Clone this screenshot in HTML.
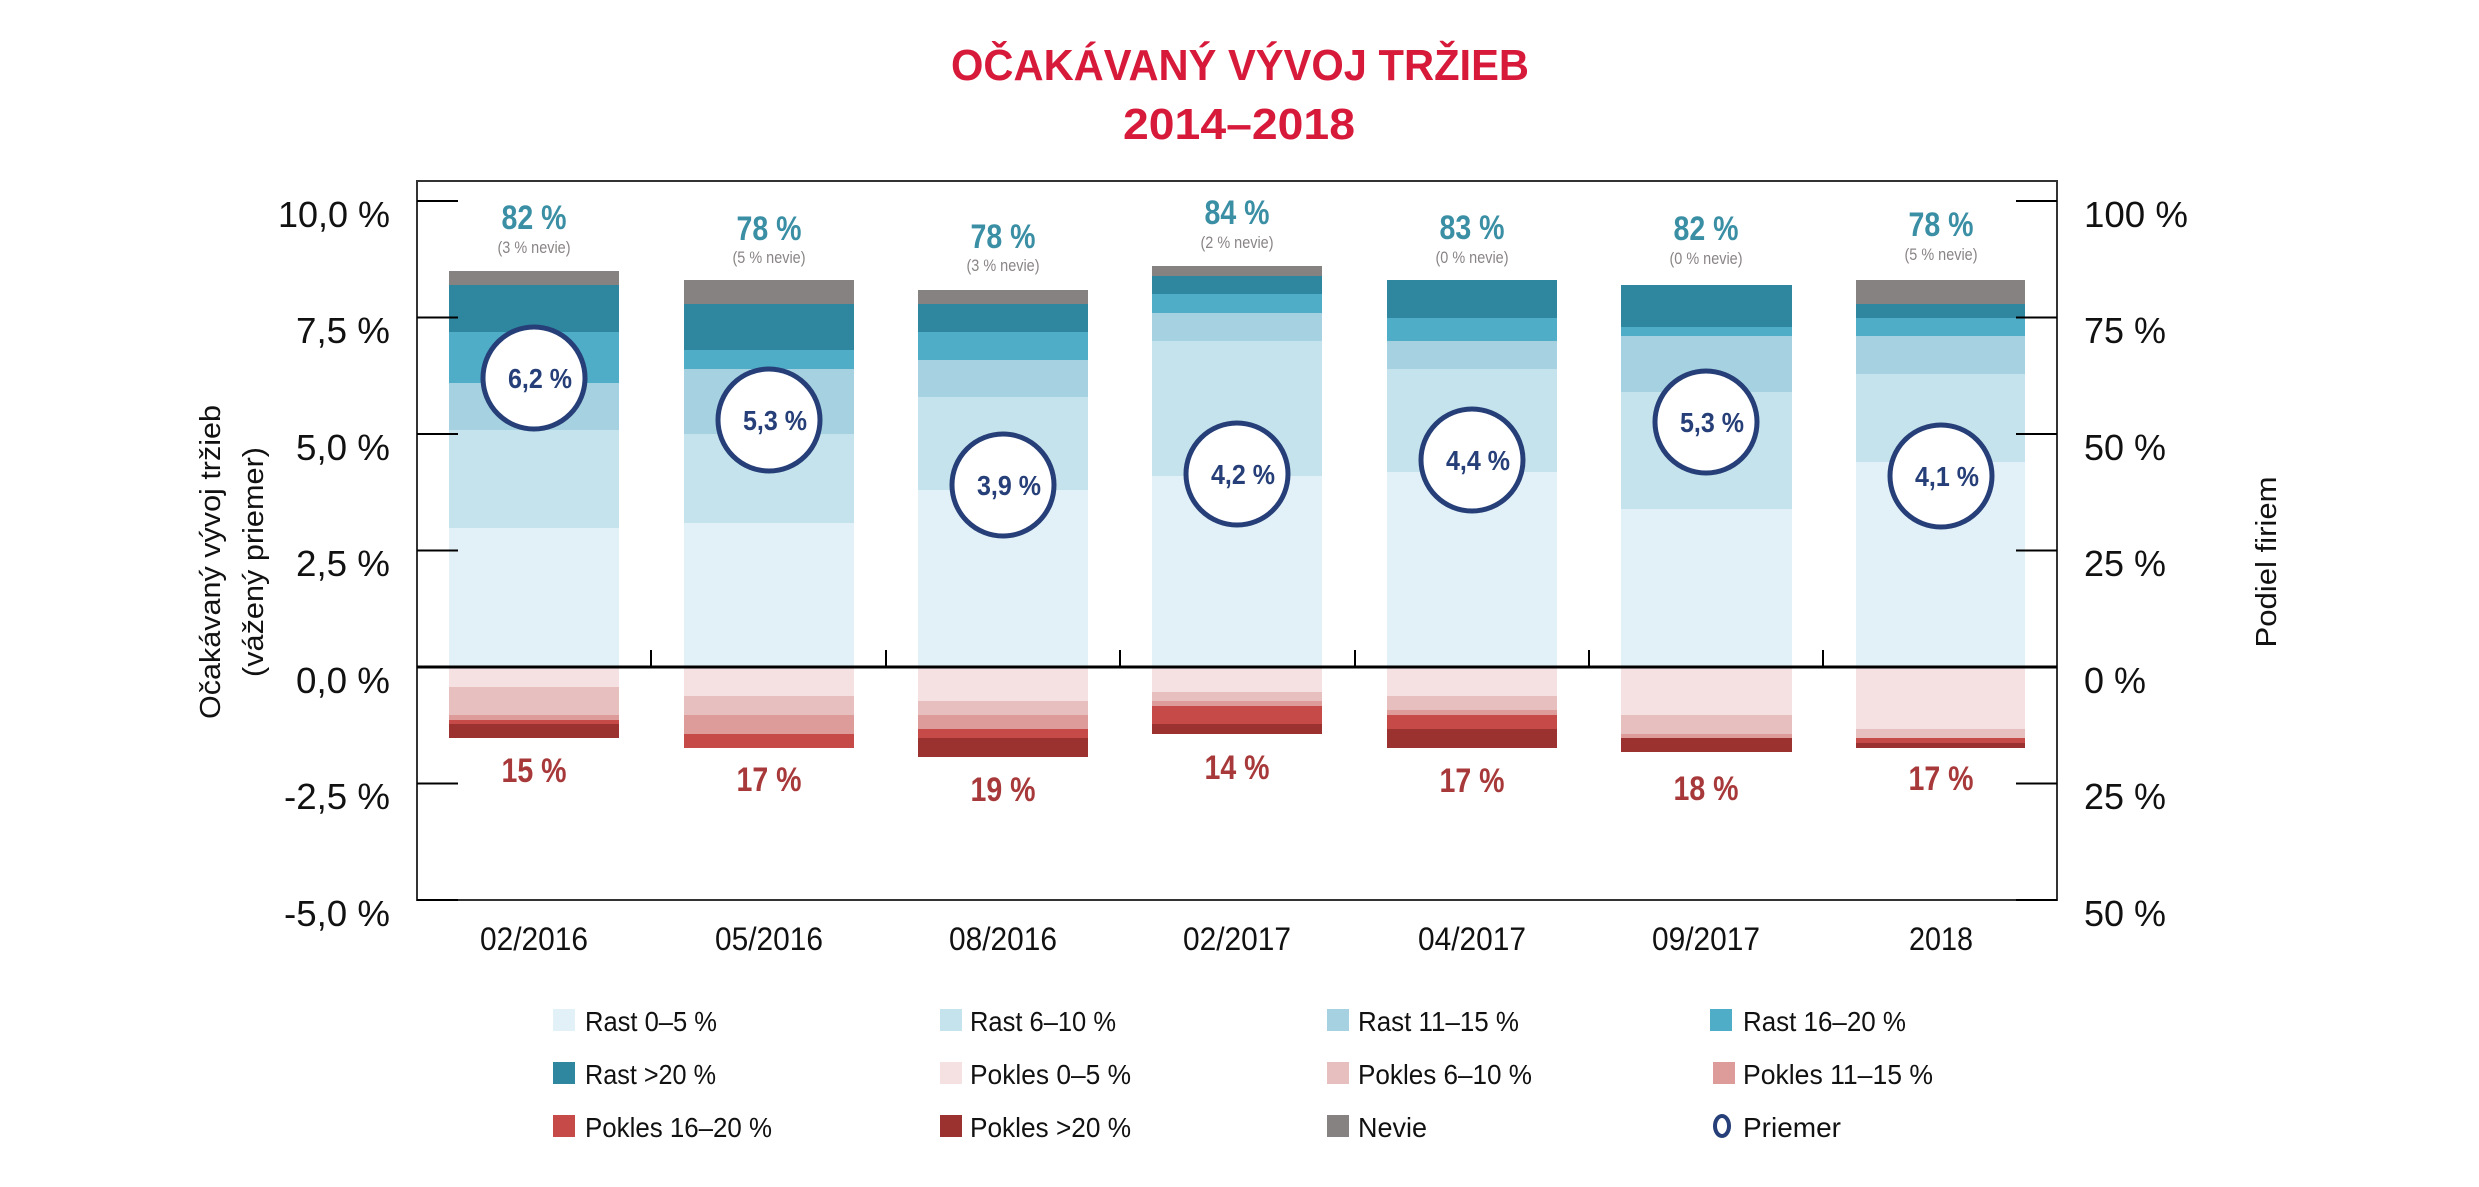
<!DOCTYPE html>
<html><head><meta charset="utf-8"><style>html,body{margin:0;padding:0;background:#fff}svg{display:block}</style></head>
<body>
<svg width="2479" height="1187" viewBox="0 0 2479 1187" xmlns="http://www.w3.org/2000/svg" font-family="Liberation Sans, sans-serif">
<rect width="2479" height="1187" fill="#fff"/>
<!-- title -->
<text x="1240" y="80" text-anchor="middle" font-size="44" font-weight="bold" fill="#d7193a" textLength="578" lengthAdjust="spacingAndGlyphs">OČAKÁVANÝ VÝVOJ TRŽIEB</text>
<text x="1239" y="139" text-anchor="middle" font-size="44" font-weight="bold" fill="#d7193a" textLength="232" lengthAdjust="spacingAndGlyphs">2014–2018</text>

<!-- bars -->
<g>
<!-- bar1 -->
<rect x="449" y="271" width="170" height="14" fill="#878282"/>
<rect x="449" y="285" width="170" height="47" fill="#2e879f"/>
<rect x="449" y="332" width="170" height="51" fill="#4fadc8"/>
<rect x="449" y="383" width="170" height="47" fill="#a5d1e0"/>
<rect x="449" y="430" width="170" height="98" fill="#c4e3ec"/>
<rect x="449" y="528" width="170" height="139" fill="#e2f1f8"/>
<rect x="449" y="667" width="170" height="20" fill="#f5e1e2"/>
<rect x="449" y="687" width="170" height="28" fill="#e8bfbf"/>
<rect x="449" y="715" width="170" height="5" fill="#dd9b99"/>
<rect x="449" y="720" width="170" height="4" fill="#c64a47"/>
<rect x="449" y="724" width="170" height="14" fill="#9b3230"/>
<!-- bar2 -->
<rect x="684" y="280" width="170" height="24" fill="#878282"/>
<rect x="684" y="304" width="170" height="46" fill="#2e879f"/>
<rect x="684" y="350" width="170" height="19" fill="#4fadc8"/>
<rect x="684" y="369" width="170" height="65" fill="#a5d1e0"/>
<rect x="684" y="434" width="170" height="89" fill="#c4e3ec"/>
<rect x="684" y="523" width="170" height="144" fill="#e2f1f8"/>
<rect x="684" y="667" width="170" height="29" fill="#f5e1e2"/>
<rect x="684" y="696" width="170" height="19" fill="#e8bfbf"/>
<rect x="684" y="715" width="170" height="19" fill="#dd9b99"/>
<rect x="684" y="734" width="170" height="14" fill="#c64a47"/>
<!-- bar3 -->
<rect x="918" y="290" width="170" height="14" fill="#878282"/>
<rect x="918" y="304" width="170" height="28" fill="#2e879f"/>
<rect x="918" y="332" width="170" height="28" fill="#4fadc8"/>
<rect x="918" y="360" width="170" height="37" fill="#a5d1e0"/>
<rect x="918" y="397" width="170" height="93" fill="#c4e3ec"/>
<rect x="918" y="490" width="170" height="177" fill="#e2f1f8"/>
<rect x="918" y="667" width="170" height="34" fill="#f5e1e2"/>
<rect x="918" y="701" width="170" height="14" fill="#e8bfbf"/>
<rect x="918" y="715" width="170" height="14" fill="#dd9b99"/>
<rect x="918" y="729" width="170" height="9" fill="#c64a47"/>
<rect x="918" y="738" width="170" height="19" fill="#9b3230"/>
<!-- bar4 -->
<rect x="1152" y="266" width="170" height="10" fill="#878282"/>
<rect x="1152" y="276" width="170" height="18" fill="#2e879f"/>
<rect x="1152" y="294" width="170" height="19" fill="#4fadc8"/>
<rect x="1152" y="313" width="170" height="28" fill="#a5d1e0"/>
<rect x="1152" y="341" width="170" height="135" fill="#c4e3ec"/>
<rect x="1152" y="476" width="170" height="191" fill="#e2f1f8"/>
<rect x="1152" y="667" width="170" height="25" fill="#f5e1e2"/>
<rect x="1152" y="692" width="170" height="9" fill="#e8bfbf"/>
<rect x="1152" y="701" width="170" height="5" fill="#dd9b99"/>
<rect x="1152" y="706" width="170" height="18" fill="#c64a47"/>
<rect x="1152" y="724" width="170" height="10" fill="#9b3230"/>
<!-- bar5 -->
<rect x="1387" y="280" width="170" height="38" fill="#2e879f"/>
<rect x="1387" y="318" width="170" height="23" fill="#4fadc8"/>
<rect x="1387" y="341" width="170" height="28" fill="#a5d1e0"/>
<rect x="1387" y="369" width="170" height="103" fill="#c4e3ec"/>
<rect x="1387" y="472" width="170" height="195" fill="#e2f1f8"/>
<rect x="1387" y="667" width="170" height="29" fill="#f5e1e2"/>
<rect x="1387" y="696" width="170" height="14" fill="#e8bfbf"/>
<rect x="1387" y="710" width="170" height="5" fill="#dd9b99"/>
<rect x="1387" y="715" width="170" height="14" fill="#c64a47"/>
<rect x="1387" y="729" width="170" height="19" fill="#9b3230"/>
<!-- bar6 -->
<rect x="1621" y="285" width="171" height="42" fill="#2e879f"/>
<rect x="1621" y="327" width="171" height="9" fill="#4fadc8"/>
<rect x="1621" y="336" width="171" height="56" fill="#a5d1e0"/>
<rect x="1621" y="392" width="171" height="117" fill="#c4e3ec"/>
<rect x="1621" y="509" width="171" height="158" fill="#e2f1f8"/>
<rect x="1621" y="667" width="171" height="48" fill="#f5e1e2"/>
<rect x="1621" y="715" width="171" height="19" fill="#e8bfbf"/>
<rect x="1621" y="734" width="171" height="4" fill="#dd9b99"/>
<rect x="1621" y="738" width="171" height="14" fill="#9b3230"/>
<!-- bar7 -->
<rect x="1856" y="280" width="169" height="24" fill="#878282"/>
<rect x="1856" y="304" width="169" height="14" fill="#2e879f"/>
<rect x="1856" y="318" width="169" height="18" fill="#4fadc8"/>
<rect x="1856" y="336" width="169" height="38" fill="#a5d1e0"/>
<rect x="1856" y="374" width="169" height="88" fill="#c4e3ec"/>
<rect x="1856" y="462" width="169" height="205" fill="#e2f1f8"/>
<rect x="1856" y="667" width="169" height="62" fill="#f5e1e2"/>
<rect x="1856" y="729" width="169" height="9" fill="#e8bfbf"/>
<rect x="1856" y="738" width="169" height="5" fill="#c64a47"/>
<rect x="1856" y="743" width="169" height="5" fill="#9b3230"/>
</g>

<!-- frame -->
<rect x="417" y="181" width="1640" height="719" fill="none" stroke="#333" stroke-width="2"/>
<line x1="417" y1="667" x2="2057" y2="667" stroke="#000" stroke-width="3"/>
<g stroke="#000" stroke-width="2">
<line x1="417" y1="201" x2="458" y2="201"/><line x1="417" y1="317.5" x2="458" y2="317.5"/>
<line x1="417" y1="434" x2="458" y2="434"/><line x1="417" y1="550.5" x2="458" y2="550.5"/>
<line x1="417" y1="783.5" x2="458" y2="783.5"/><line x1="417" y1="900" x2="458" y2="900"/>
<line x1="2016" y1="201" x2="2057" y2="201"/><line x1="2016" y1="317.5" x2="2057" y2="317.5"/>
<line x1="2016" y1="434" x2="2057" y2="434"/><line x1="2016" y1="550.5" x2="2057" y2="550.5"/>
<line x1="2016" y1="783.5" x2="2057" y2="783.5"/><line x1="2016" y1="900" x2="2057" y2="900"/>
<line x1="651" y1="650" x2="651" y2="667"/><line x1="886" y1="650" x2="886" y2="667"/>
<line x1="1120" y1="650" x2="1120" y2="667"/><line x1="1355" y1="650" x2="1355" y2="667"/>
<line x1="1589" y1="650" x2="1589" y2="667"/><line x1="1823" y1="650" x2="1823" y2="667"/>
</g>

<!-- left tick labels -->
<g font-size="36" fill="#111" text-anchor="end">
<text x="390" y="227" textLength="112" lengthAdjust="spacingAndGlyphs">10,0 %</text>
<text x="390" y="343" textLength="94" lengthAdjust="spacingAndGlyphs">7,5 %</text>
<text x="390" y="460" textLength="94" lengthAdjust="spacingAndGlyphs">5,0 %</text>
<text x="390" y="576" textLength="94" lengthAdjust="spacingAndGlyphs">2,5 %</text>
<text x="390" y="693" textLength="94" lengthAdjust="spacingAndGlyphs">0,0 %</text>
<text x="390" y="809" textLength="106" lengthAdjust="spacingAndGlyphs">-2,5 %</text>
<text x="390" y="926" textLength="106" lengthAdjust="spacingAndGlyphs">-5,0 %</text>
</g>
<!-- right tick labels -->
<g font-size="36" fill="#111">
<text x="2084" y="227" textLength="104" lengthAdjust="spacingAndGlyphs">100 %</text>
<text x="2084" y="343" textLength="82" lengthAdjust="spacingAndGlyphs">75 %</text>
<text x="2084" y="460" textLength="82" lengthAdjust="spacingAndGlyphs">50 %</text>
<text x="2084" y="576" textLength="82" lengthAdjust="spacingAndGlyphs">25 %</text>
<text x="2084" y="693" textLength="62" lengthAdjust="spacingAndGlyphs">0 %</text>
<text x="2084" y="809" textLength="82" lengthAdjust="spacingAndGlyphs">25 %</text>
<text x="2084" y="926" textLength="82" lengthAdjust="spacingAndGlyphs">50 %</text>
</g>
<!-- axis titles -->
<text transform="translate(220,562) rotate(-90)" text-anchor="middle" font-size="29" fill="#111" textLength="314" lengthAdjust="spacingAndGlyphs">Očakávaný vývoj tržieb</text>
<text transform="translate(263,562) rotate(-90)" text-anchor="middle" font-size="29" fill="#111" textLength="230" lengthAdjust="spacingAndGlyphs">(vážený priemer)</text>
<text transform="translate(2276,562) rotate(-90)" text-anchor="middle" font-size="29" fill="#111" textLength="171" lengthAdjust="spacingAndGlyphs">Podiel firiem</text>

<!-- x labels -->
<g font-size="32" fill="#111" text-anchor="middle">
<text x="534" y="950" textLength="108" lengthAdjust="spacingAndGlyphs">02/2016</text>
<text x="769" y="950" textLength="108" lengthAdjust="spacingAndGlyphs">05/2016</text>
<text x="1003" y="950" textLength="108" lengthAdjust="spacingAndGlyphs">08/2016</text>
<text x="1237" y="950" textLength="108" lengthAdjust="spacingAndGlyphs">02/2017</text>
<text x="1472" y="950" textLength="108" lengthAdjust="spacingAndGlyphs">04/2017</text>
<text x="1706" y="950" textLength="108" lengthAdjust="spacingAndGlyphs">09/2017</text>
<text x="1941" y="950" textLength="64" lengthAdjust="spacingAndGlyphs">2018</text>
</g>

<!-- top labels -->
<g font-size="34" font-weight="bold" fill="#3a8fa5" text-anchor="middle">
<text x="534" y="229" textLength="65" lengthAdjust="spacingAndGlyphs">82 %</text>
<text x="769" y="240" textLength="65" lengthAdjust="spacingAndGlyphs">78 %</text>
<text x="1003" y="248" textLength="65" lengthAdjust="spacingAndGlyphs">78 %</text>
<text x="1237" y="224" textLength="65" lengthAdjust="spacingAndGlyphs">84 %</text>
<text x="1472" y="239" textLength="65" lengthAdjust="spacingAndGlyphs">83 %</text>
<text x="1706" y="240" textLength="65" lengthAdjust="spacingAndGlyphs">82 %</text>
<text x="1941" y="236" textLength="65" lengthAdjust="spacingAndGlyphs">78 %</text>
</g>
<g font-size="17" fill="#8a8585" text-anchor="middle">
<text x="534" y="253" textLength="73" lengthAdjust="spacingAndGlyphs">(3 % nevie)</text>
<text x="769" y="263" textLength="73" lengthAdjust="spacingAndGlyphs">(5 % nevie)</text>
<text x="1003" y="271" textLength="73" lengthAdjust="spacingAndGlyphs">(3 % nevie)</text>
<text x="1237" y="248" textLength="73" lengthAdjust="spacingAndGlyphs">(2 % nevie)</text>
<text x="1472" y="263" textLength="73" lengthAdjust="spacingAndGlyphs">(0 % nevie)</text>
<text x="1706" y="264" textLength="73" lengthAdjust="spacingAndGlyphs">(0 % nevie)</text>
<text x="1941" y="260" textLength="73" lengthAdjust="spacingAndGlyphs">(5 % nevie)</text>
</g>
<!-- bottom labels -->
<g font-size="34" font-weight="bold" fill="#a8393a" text-anchor="middle">
<text x="534" y="782" textLength="65" lengthAdjust="spacingAndGlyphs">15 %</text>
<text x="769" y="791" textLength="65" lengthAdjust="spacingAndGlyphs">17 %</text>
<text x="1003" y="801" textLength="65" lengthAdjust="spacingAndGlyphs">19 %</text>
<text x="1237" y="779" textLength="65" lengthAdjust="spacingAndGlyphs">14 %</text>
<text x="1472" y="792" textLength="65" lengthAdjust="spacingAndGlyphs">17 %</text>
<text x="1706" y="800" textLength="65" lengthAdjust="spacingAndGlyphs">18 %</text>
<text x="1941" y="790" textLength="65" lengthAdjust="spacingAndGlyphs">17 %</text>
</g>

<!-- circles -->
<g fill="#fff" stroke="#263f78" stroke-width="5">
<circle cx="534" cy="378" r="51"/><circle cx="769" cy="420" r="51"/>
<circle cx="1003" cy="485" r="51"/><circle cx="1237" cy="474" r="51"/>
<circle cx="1472" cy="460" r="51"/><circle cx="1706" cy="422" r="51"/>
<circle cx="1941" cy="476" r="51"/>
</g>
<g font-size="28" font-weight="bold" fill="#263f78" text-anchor="middle">
<text x="540" y="388" textLength="64" lengthAdjust="spacingAndGlyphs">6,2 %</text>
<text x="775" y="430" textLength="64" lengthAdjust="spacingAndGlyphs">5,3 %</text>
<text x="1009" y="495" textLength="64" lengthAdjust="spacingAndGlyphs">3,9 %</text>
<text x="1243" y="484" textLength="64" lengthAdjust="spacingAndGlyphs">4,2 %</text>
<text x="1478" y="470" textLength="64" lengthAdjust="spacingAndGlyphs">4,4 %</text>
<text x="1712" y="432" textLength="64" lengthAdjust="spacingAndGlyphs">5,3 %</text>
<text x="1947" y="486" textLength="64" lengthAdjust="spacingAndGlyphs">4,1 %</text>
</g>

<!-- legend -->
<g>
<rect x="553" y="1009" width="22" height="22" fill="#e2f1f8"/>
<rect x="940" y="1009" width="22" height="22" fill="#c4e3ec"/>
<rect x="1327" y="1009" width="22" height="22" fill="#a5d1e0"/>
<rect x="1710" y="1009" width="22" height="22" fill="#4fadc8"/>
<rect x="553" y="1062" width="22" height="22" fill="#2e879f"/>
<rect x="940" y="1062" width="22" height="22" fill="#f5e1e2"/>
<rect x="1327" y="1062" width="22" height="22" fill="#e8bfbf"/>
<rect x="1713" y="1062" width="22" height="22" fill="#dd9b99"/>
<rect x="553" y="1115" width="22" height="22" fill="#c64a47"/>
<rect x="940" y="1115" width="22" height="22" fill="#9b3230"/>
<rect x="1327" y="1115" width="22" height="22" fill="#878282"/>
<ellipse cx="1722" cy="1126" rx="7" ry="10" fill="none" stroke="#263f78" stroke-width="4"/>
</g>
<g font-size="28" fill="#111">
<text x="585" y="1031" textLength="132" lengthAdjust="spacingAndGlyphs">Rast 0–5 %</text>
<text x="970" y="1031" textLength="146" lengthAdjust="spacingAndGlyphs">Rast 6–10 %</text>
<text x="1358" y="1031" textLength="161" lengthAdjust="spacingAndGlyphs">Rast 11–15 %</text>
<text x="1743" y="1031" textLength="163" lengthAdjust="spacingAndGlyphs">Rast 16–20 %</text>
<text x="585" y="1084" textLength="131" lengthAdjust="spacingAndGlyphs">Rast &gt;20 %</text>
<text x="970" y="1084" textLength="161" lengthAdjust="spacingAndGlyphs">Pokles 0–5 %</text>
<text x="1358" y="1084" textLength="174" lengthAdjust="spacingAndGlyphs">Pokles 6–10 %</text>
<text x="1743" y="1084" textLength="190" lengthAdjust="spacingAndGlyphs">Pokles 11–15 %</text>
<text x="585" y="1137" textLength="187" lengthAdjust="spacingAndGlyphs">Pokles 16–20 %</text>
<text x="970" y="1137" textLength="161" lengthAdjust="spacingAndGlyphs">Pokles &gt;20 %</text>
<text x="1358" y="1137" textLength="69" lengthAdjust="spacingAndGlyphs">Nevie</text>
<text x="1743" y="1137" textLength="98" lengthAdjust="spacingAndGlyphs">Priemer</text>
</g>
</svg>
</body></html>
